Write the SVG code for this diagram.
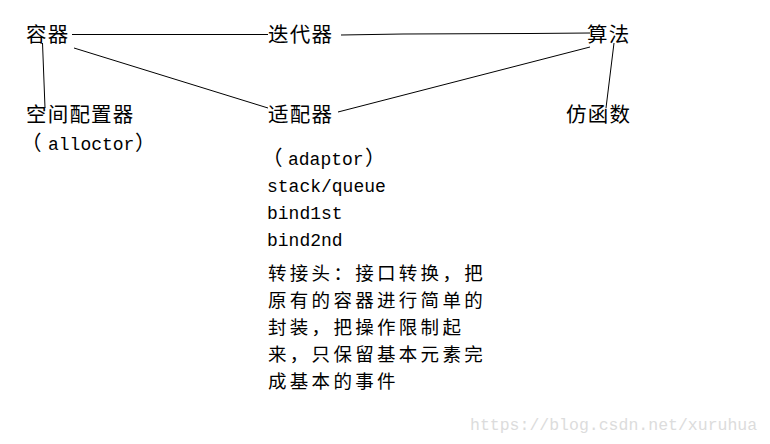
<svg xmlns="http://www.w3.org/2000/svg" width="770" height="444" viewBox="0 0 770 444">
<style>
.cjk{font-family:"Noto Sans CJK SC","Noto Sans",sans-serif;font-size:20.5px;letter-spacing:1.2px;fill:#000}
.para{font-family:"Noto Sans CJK SC","Noto Sans",sans-serif;font-size:18.5px;letter-spacing:3.3px;fill:#000}
.mono{font-family:"Liberation Mono","DejaVu Sans Mono",monospace;font-size:18px;fill:#000}
.edge{stroke:#000;stroke-width:1;fill:none}
.wm{font-family:"Liberation Mono","DejaVu Sans Mono",monospace;font-size:16.5px;fill:#dcdcdc}
</style>
<rect width="770" height="444" fill="#fff"/>
<g id="connectors">
<line class="edge" x1="72" y1="34.5" x2="268" y2="34.5"/>
<polyline class="edge" points="341,35 403,34 530,33.5 590,33"/>
<line class="edge" x1="74" y1="48" x2="268" y2="108"/>
<line class="edge" x1="338" y1="112" x2="590" y2="47"/>
<line class="edge" x1="42.5" y1="43" x2="45" y2="108"/>
<line class="edge" x1="614" y1="43" x2="606" y2="108"/>
</g>
<g id="container"><text class="cjk" x="26" y="42">容器</text></g>
<g id="iterator"><text class="cjk" x="268" y="42">迭代器</text></g>
<g id="algorithm"><text class="cjk" x="587" y="42">算法</text></g>
<g id="allocator">
<text class="cjk" x="26" y="122">空间配置器</text>
<text x="21" y="150"><tspan class="cjk">（</tspan><tspan class="mono" x="48">alloctor</tspan><tspan class="cjk" x="135">）</tspan></text>
</g>
<g id="adaptor">
<text class="cjk" x="268" y="122">适配器</text>
<text x="262" y="165"><tspan class="cjk">（</tspan><tspan class="mono" x="288">adaptor</tspan><tspan class="cjk" x="365">）</tspan></text>
<text class="mono" x="267" y="192">stack/queue</text>
<text class="mono" x="267" y="219">bind1st</text>
<text class="mono" x="267" y="246">bind2nd</text>
<text class="para" x="268" y="280">转接头：接口转换，把</text>
<text class="para" x="268" y="307">原有的容器进行简单的</text>
<text class="para" x="268" y="334">封装，把操作限制起</text>
<text class="para" x="268" y="361">来，只保留基本元素完</text>
<text class="para" x="268" y="388">成基本的事件</text>
</g>
<g id="functor"><text class="cjk" x="566" y="122">仿函数</text></g>
<text class="wm" x="470" y="430">https://blog.csdn.net/xuruhua</text>
</svg>
